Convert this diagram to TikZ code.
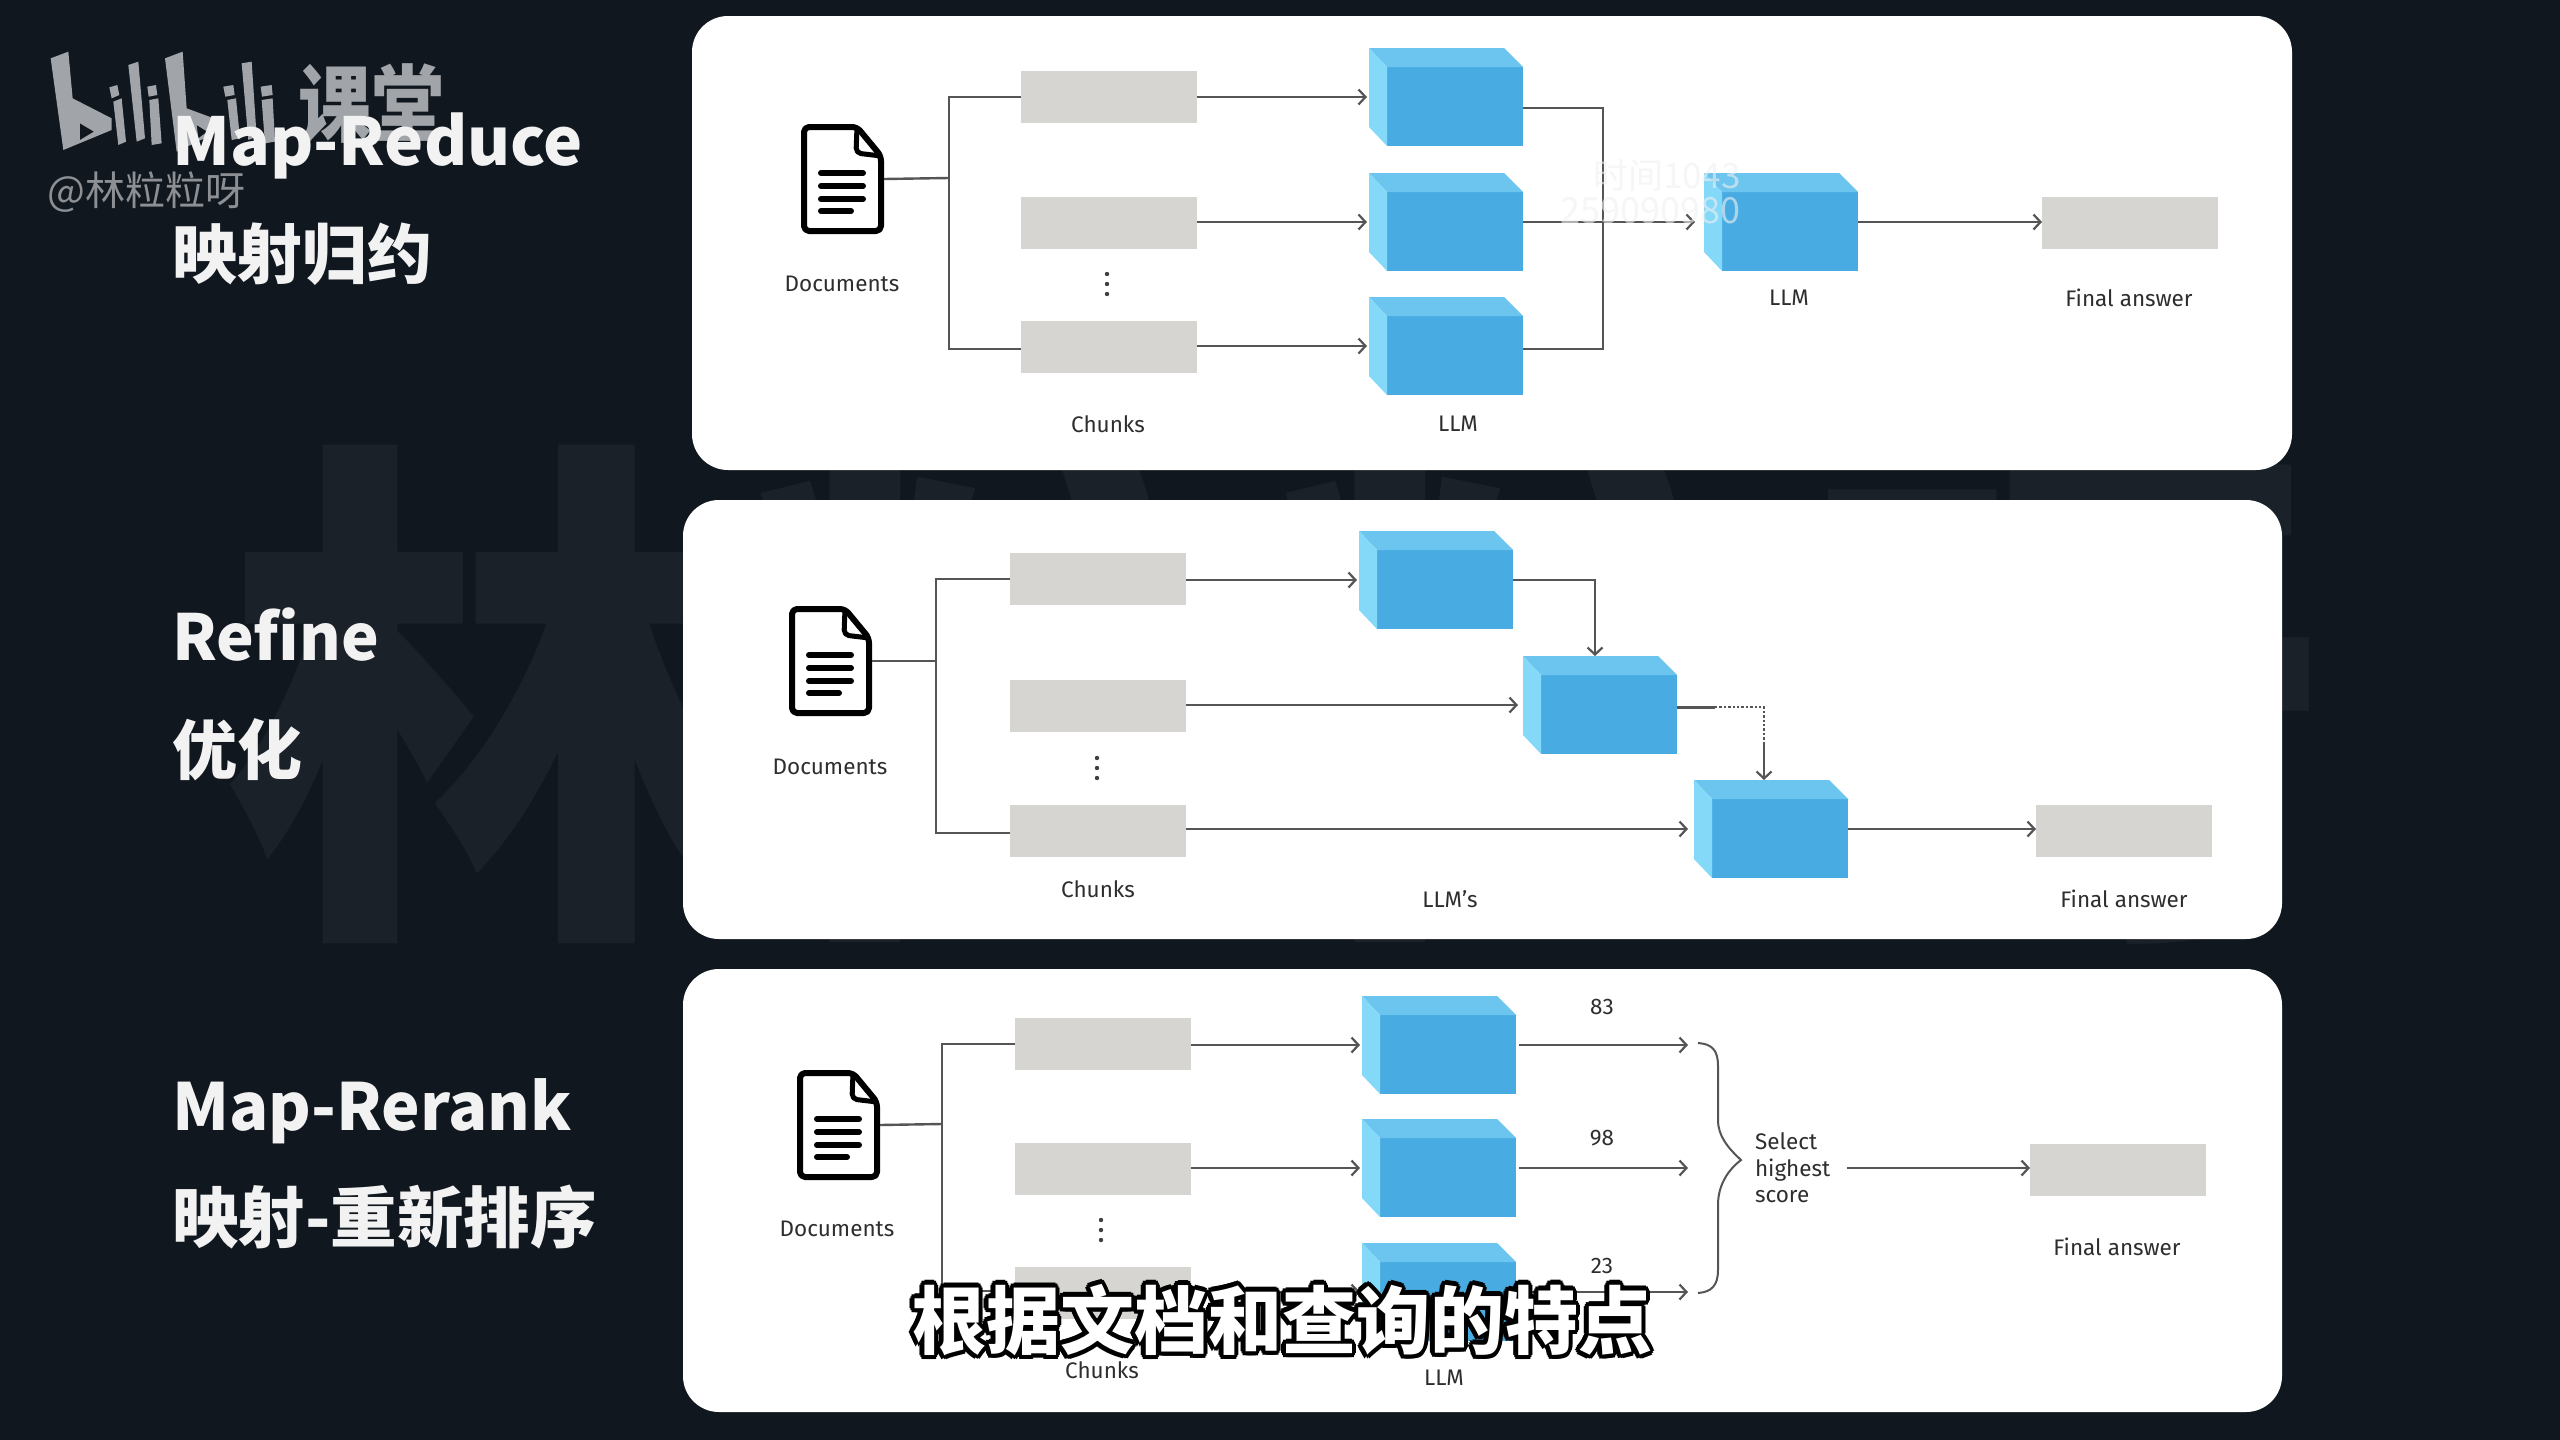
\documentclass[tikz,border=0pt]{standalone}
\usepackage{fontspec}
\usetikzlibrary{arrows.meta,calc}
\newfontfamily\firaf{Fira Sans}
\newfontfamily\cjkf{Noto Sans CJK SC}
\definecolor{bgdark}{HTML}{10171E}
\definecolor{bgchar}{HTML}{1A2128}
\definecolor{chunkgray}{HTML}{D6D5D2}
\definecolor{cubefront}{HTML}{48ACE2}
\definecolor{cubetop}{HTML}{6CC5EE}
\definecolor{cubeside}{HTML}{85D9F8}
\definecolor{linegray}{HTML}{555555}
\definecolor{logogray}{HTML}{A1A4A8}
\definecolor{handlegray}{HTML}{8C8F93}
\definecolor{faintmark}{HTML}{EFF0F2}
\newcommand\halotext[1]{\leavevmode\foreach \a in {0,30,...,330}{\pgfmathsetlengthmacro\dx{4.5pt*cos(\a)}\pgfmathsetlengthmacro\dy{4.5pt*sin(\a)}\rlap{\hspace*{\dx}\raisebox{\dy}{\textcolor{black}{#1}}}}\textcolor{white}{#1}}
\tikzset{
  card/.style={fill=white,rounded corners=36pt,inner sep=0pt,outer sep=0pt,anchor=north west},
  chunk/.style={fill=chunkgray,minimum width=176pt,minimum height=52pt,inner sep=0pt,outer sep=0pt,anchor=north west},
  cube/.style={minimum width=154pt,minimum height=98pt,inner sep=0pt,outer sep=0pt,anchor=north west},
  docicon/.style={minimum width=83pt,minimum height=110pt,inner sep=0pt,outer sep=0pt,anchor=north west},
  conn/.style={draw=linegray,line width=2.4pt},
  arr/.style={conn,-{Straight Barb[length=7pt,width=15pt,line width=2.2pt]},shorten >=2pt},
  lab/.style={font=\firaf\fontsize{22.5}{26.5}\selectfont,text=black!82,inner sep=0pt,outer sep=0pt},
  titlelat/.style={font=\cjkf\bfseries\fontsize{65}{65}\selectfont,text=white!95!black,inner sep=0pt,anchor=base west},
  titlecjk/.style={font=\cjkf\bfseries\fontsize{65}{65}\selectfont,text=white!95!black,inner sep=0pt,anchor=base west},
  vdot/.style={fill=black!75},
  logopart/.style={fill=logogray}
}
\newcommand\cubenode[3]{%
  \node[cube] (#1) at (#2,#3) {};
  \begin{scope}[shift={(#1.north west)}]
    \fill[cubefront] (18,19) rectangle (154,98);
    \fill[cubetop] (0,0) -- (135,0) -- (154,19) -- (18,19) -- cycle;
    \fill[cubeside] (0,0) -- (18,19) -- (18,98) -- (0,79) -- cycle;
  \end{scope}}
\newcommand\docnode[3]{%
  \node[docicon] (#1) at (#2,#3) {};
  \begin{scope}[shift={(#1.north west)},black]
    \draw[line width=6pt,rounded corners=5pt,line join=round] (3,3) -- (56,3) -- (80,32) -- (80,107) -- (3,107) -- cycle;
    \draw[line width=5pt,rounded corners=5pt,line join=round] (56,3) -- (55,29) -- (80,32);
    \draw[line width=6pt,line cap=round] (20,49) -- (62,49) (20,62) -- (62,62) (20,75) -- (62,75) (20,87) -- (50,87);
  \end{scope}}
\begin{document}
\begin{tikzpicture}[x=1pt,y=-1pt]
\useasboundingbox (0,0) rectangle (2560,1440);
\fill[bgdark] (0,0) rectangle (2560,1440);
\node[anchor=west,inner sep=0pt,text=bgchar,font=\cjkf\bfseries\fontsize{525}{525}\selectfont] (bigmark) at (222,693) {林粒粒呀};
% cards
\node[card,minimum width=1600pt,minimum height=454pt] (card1) at (692,16) {};
\node[card,minimum width=1599pt,minimum height=439pt] (card2) at (683,500) {};
\node[card,minimum width=1599pt,minimum height=443pt] (card3) at (683,969) {};
% ===== card 1
\docnode{d1}{801}{124}
\node[chunk] (c11) at (1021,71) {};
\node[chunk] (c12) at (1021,197) {};
\node[chunk] (c13) at (1021,321) {};
\cubenode{l11}{1369}{48}
\cubenode{l12}{1369}{173}
\cubenode{l13}{1369}{297}
\cubenode{l14}{1704}{173}
\node[chunk] (f1) at (2042,197) {};
\coordinate (t1) at (949,97);
\coordinate (j1) at (949,178);
\coordinate (b1) at (949,349);
\coordinate (m1) at (1603,108);
\coordinate (m3) at (1603,349);
\draw[conn] (d1.east) -- (j1);
\draw[conn] (c11.west) -- (t1) -- (b1) -- (c13.west |- b1);
\draw[arr] (c11.east) -- (l11.west);
\draw[arr] (c12.east |- l12.west) -- (l12.west);
\draw[arr] (c13.east |- l13.west) -- (l13.west);
\draw[conn] (l11.east |- m1) -- (m1) -- (m3) -- (l13.east |- m3);
\draw[arr,shorten >=9pt] (l12.east) -- (l14.west);
\draw[arr,shorten >=0pt] (l14.east) -- (f1.west |- l14.east);
\fill[vdot] (1107,274) circle (2.2) (1107,284) circle (2.2) (1107,294) circle (2.2);
\node[lab] (t11) at (842,284) {Documents};
\node[lab] (t12) at (1108,424) {Chunks};
\node[lab] (t13) at (1458,424) {LLM};
\node[lab] (t14) at (1789,298) {LLM};
\node[lab] (t15) at (2129,298) {Final answer};
\node[anchor=east,inner sep=0pt,opacity=.6,text=faintmark,font=\cjkf\fontsize{35}{35}\selectfont] (fm1) at (1741,175) {时间1043};
\node[anchor=east,inner sep=0pt,opacity=.6,text=faintmark,font=\cjkf\fontsize{36}{36}\selectfont] (fm2) at (1741,211) {259090980};
% ===== card 2
\docnode{d2}{789}{606}
\node[chunk] (c21) at (1010,553) {};
\node[chunk] (c22) at (1010,680) {};
\node[chunk] (c23) at (1010,805) {};
\cubenode{l21}{1359}{531}
\cubenode{l22}{1523}{656}
\cubenode{l23}{1694}{780}
\node[chunk] (f2) at (2036,805) {};
\coordinate (t2) at (936,579);
\coordinate (j2) at (936,661);
\coordinate (b2) at (936,833);
\coordinate (a2) at (1595,580);
\coordinate (s2) at (1715,707);
\coordinate (e2) at (1764,707);
\coordinate (g2) at (1764,742);
\draw[conn] (d2.east) -- (j2);
\draw[conn] (c21.west) -- (t2) -- (b2) -- (c23.west |- b2);
\draw[arr] (c21.east |- l21.west) -- (l21.west);
\draw[arr,shorten >=5pt] (c22.east |- l22.west) -- (l22.west);
\draw[arr,shorten >=6pt] (c23.east |- l23.west) -- (l23.west);
\draw[arr,shorten >=0pt] (l21.east) -- (a2) -- (a2 |- l22.north);
\draw[conn,line width=3pt] (l22.east |- s2) -- (s2);
\draw[conn,dotted] (s2) -- (e2) -- (g2);
\draw[arr,shorten >=0pt] (g2) -- (g2 |- l23.north);
\draw[arr,shorten >=0pt] (l23.east) -- (f2.west |- l23.east);
\fill[vdot] (1097,758) circle (2.2) (1097,768) circle (2.2) (1097,778) circle (2.2);
\node[lab] (t21) at (830,767) {Documents};
\node[lab] (t22) at (1098,889) {Chunks};
\node[lab] (t23) at (1450,899) {LLM’s};
\node[lab] (t24) at (2124,899) {Final answer};
% ===== card 3
\docnode{d3}{797}{1070}
\node[chunk] (c31) at (1015,1018) {};
\node[chunk] (c32) at (1015,1143) {};
\node[chunk] (c33) at (1015,1267) {};
\cubenode{l31}{1362}{996}
\cubenode{l32}{1362}{1119}
\cubenode{l33}{1362}{1243}
\node[chunk] (f3) at (2030,1144) {};
\coordinate (t3) at (942,1044);
\coordinate (j3) at (942,1124);
\coordinate (b3) at (942,1291);
\coordinate (o3) at (1688,1168);
\draw[conn] (d3.east) -- (j3);
\draw[conn] (c31.west) -- (t3) -- (b3) -- (c33.west |- b3);
\draw[arr] (c31.east |- l31.west) -- (l31.west);
\draw[arr] (c32.east |- l32.west) -- (l32.west);
\draw[arr] (c33.east |- l33.west) -- (l33.west);
\draw[arr,shorten >=0pt] ([xshift=3pt]l31.east) -- (l31.east -| o3);
\draw[arr,shorten >=0pt] ([xshift=3pt]l32.east) -- (l32.east -| o3);
\draw[arr,shorten >=0pt] ([xshift=3pt]l33.east) -- (l33.east -| o3);
\fill[vdot] (1101,1220) circle (2.2) (1101,1230) circle (2.2) (1101,1240) circle (2.2);
\draw[conn,line width=2pt] (1698,1043) .. controls (1712,1044) and (1718,1050) .. (1718,1066) -- (1718,1120) .. controls (1718,1136) and (1728,1148) .. (1741,1160) .. controls (1728,1170) and (1718,1185) .. (1718,1205) -- (1718,1270) .. controls (1718,1285) and (1712,1292) .. (1698,1293);
\node[lab,anchor=west,align=left,inner xsep=17pt] (sel) at (1738,1168) {Select\\highest\\score};
\draw[arr,shorten >=0pt] (sel.east) -- (f3.west |- sel.east);
\node[lab] (n83) at (1602,1007) {83};
\node[lab] (n98) at (1602,1138) {98};
\node[lab] (n23) at (1602,1266) {23};
\node[lab] (t31) at (837,1229) {Documents};
\node[lab] (t32) at (1102,1370) {Chunks};
\node[lab] (t33) at (1444,1378) {LLM};
\node[lab] (t34) at (2117,1247) {Final answer};
% ===== logo
\begin{scope}[x=0.33333pt,y=-0.33333pt,shift={(90,90)}]
  \fill[logopart,even odd rule] (62,85) -- (115,65) -- (128,205) -- (245,265) -- (245,300) -- (100,360) -- cycle (150,280) -- (192,305) -- (150,330) -- cycle;
  \fill[logopart] (238,172) -- (262,165) -- (268,195) -- (245,205) -- cycle (250,215) -- (275,205) -- (288,335) -- (265,345) -- cycle;
  \fill[logopart] (295,105) -- (325,95) -- (345,325) -- (320,335) -- cycle;
  \fill[logopart] (352,170) -- (378,165) -- (382,195) -- (356,200) -- cycle (358,210) -- (385,205) -- (395,340) -- (365,345) -- cycle;
  \fill[logopart,even odd rule] (405,85) -- (458,65) -- (470,235) -- (565,270) -- (565,305) -- (440,365) -- cycle (500,285) -- (532,305) -- (505,325) -- cycle;
  \fill[logopart] (580,170) -- (610,165) -- (614,195) -- (586,200) -- cycle (592,210) -- (618,205) -- (630,325) -- (605,330) -- cycle;
  \fill[logopart] (635,100) -- (665,95) -- (680,320) -- (655,330) -- cycle;
  \fill[logopart] (692,170) -- (725,165) -- (728,195) -- (696,200) -- cycle (695,210) -- (728,205) -- (735,335) -- (705,340) -- cycle;
\end{scope}
\node[inner sep=0pt,text=logogray,font=\cjkf\bfseries\fontsize{73}{73}\selectfont] (lk) at (371,104) {\scalebox{1}[1.15]{课堂}};
\node[anchor=west,inner sep=0pt,text=handlegray,font=\cjkf\fontsize{40}{40}\selectfont] (handle) at (47,192) {@林粒粒呀};
% ===== titles
\node[titlelat,font=\cjkf\bfseries\fontsize{66}{66}\selectfont] (h1) at (172,165) {Map-Reduce};
\node[titlecjk] (h1c) at (172,278) {映射归约};
\node[titlelat,font=\cjkf\bfseries\fontsize{63.5}{64}\selectfont] (h2) at (172,660) {Refine};
\node[titlecjk] (h2c) at (172,774) {优化};
\node[titlelat] (h3) at (172,1130) {Map-Rerank};
\node[titlecjk,font=\cjkf\bfseries\fontsize{66.5}{66}\selectfont] (h3c) at (172,1242) {映射-重新排序};
% ===== subtitle
\node[inner sep=0pt,font=\cjkf\bfseries\fontsize{74}{74}\selectfont] (sub) at (1282,1320) {\halotext{根据文档和查询的特点}};
\end{tikzpicture}
\end{document}
